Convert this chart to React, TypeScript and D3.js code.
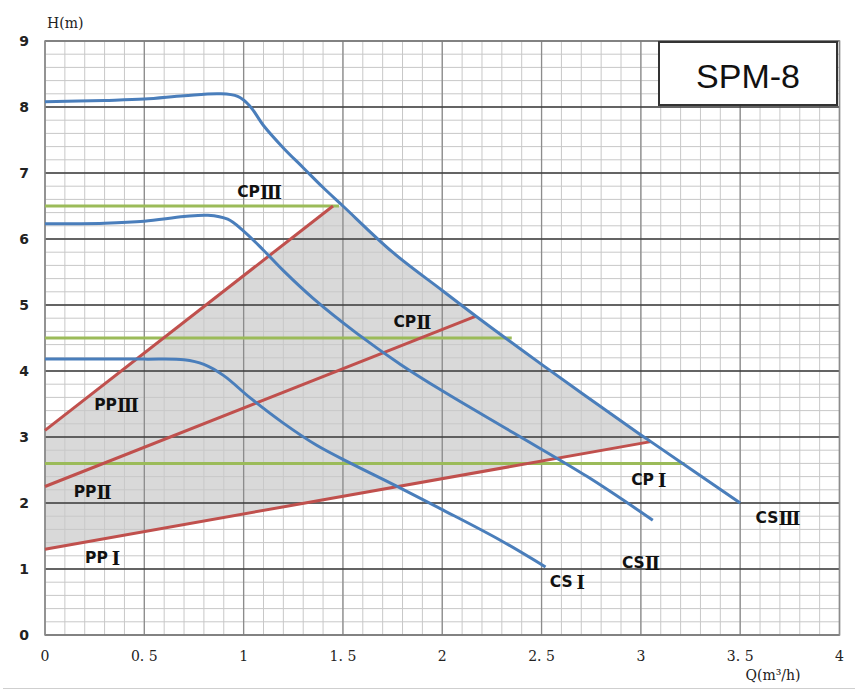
import React from 'react';
import * as d3 from 'd3';

// pump curves, Q (m3/h) vs H (m)
const csIII: [number, number][] = [
  [0, 8.08], [0.3, 8.1], [0.5, 8.12], [0.7, 8.17], [0.88, 8.2], [0.97, 8.16],
  [1.03, 8.02], [1.1, 7.72], [1.2, 7.38], [1.3, 7.08], [1.4, 6.78], [1.5, 6.5],
  [1.75, 5.8], [2.0, 5.22], [2.17, 4.83], [2.5, 4.1], [3.0, 3.03], [3.05, 2.93], [3.5, 2.0],
];
const csII: [number, number][] = [
  [0, 6.23], [0.3, 6.24], [0.5, 6.27], [0.7, 6.34], [0.82, 6.36], [0.92, 6.3],
  [1.0, 6.12], [1.1, 5.83], [1.2, 5.52], [1.35, 5.1], [1.57, 4.57], [1.79, 4.1],
  [2.0, 3.7], [2.36, 3.06], [2.73, 2.4], [3.06, 1.74],
];
const csI: [number, number][] = [
  [0, 4.18], [0.5, 4.18], [0.7, 4.17], [0.8, 4.1], [0.9, 3.93], [1.03, 3.6],
  [1.2, 3.21], [1.37, 2.87], [1.54, 2.6], [1.76, 2.27], [2.0, 1.9], [2.29, 1.44], [2.52, 1.03],
];

// proportional pressure lines (red)
const ppIII: [number, number][] = [[0, 3.1], [1.45, 6.5]];
const ppII: [number, number][] = [[0, 2.25], [2.17, 4.83]];
const ppI: [number, number][] = [[0, 1.3], [3.05, 2.93]];

// constant pressure lines (green)
const cpIII: [number, number][] = [[0, 6.5], [1.48, 6.5]];
const cpII: [number, number][] = [[0, 4.5], [2.35, 4.5]];
const cpI: [number, number][] = [[0, 2.6], [3.22, 2.6]];

const xTicks = [0, 0.5, 1, 1.5, 2, 2.5, 3, 3.5, 4];
const xTickLabels = ['0', '0. 5', '1', '1. 5', '2', '2. 5', '3', '3. 5', '4'];
const yTicks = [0, 1, 2, 3, 4, 5, 6, 7, 8, 9];

const curveLabels = [
  { name: 'CP', num: 'Ⅲ', gap: 0, q: 1.08, h: 6.71 },
  { name: 'CP', num: 'Ⅱ', gap: 0, q: 1.85, h: 4.74 },
  { name: 'CP', num: 'Ⅰ', gap: 4, q: 3.04, h: 2.35 },
  { name: 'PP', num: 'Ⅲ', gap: 0, q: 0.36, h: 3.48 },
  { name: 'PP', num: 'Ⅱ', gap: 0, q: 0.24, h: 2.17 },
  { name: 'PP', num: 'Ⅰ', gap: 4, q: 0.29, h: 1.17 },
  { name: 'CS', num: 'Ⅰ', gap: 4, q: 2.63, h: 0.8 },
  { name: 'CS', num: 'Ⅱ', gap: 0, q: 3.0, h: 1.09 },
  { name: 'CS', num: 'Ⅲ', gap: 0, q: 3.69, h: 1.77 },
];

const BLUE = '#4a7ebb';
const RED = '#c0504d';
const GREEN = '#9bbb59';

export default function App() {
  const width = 855;
  const height = 691;

  const x = d3.scaleLinear().domain([0, 4]).range([45, 839.5]);
  const y = d3.scaleLinear().domain([0, 9]).range([635, 41]);

  const smooth = d3.line<[number, number]>()
    .x(d => x(d[0]))
    .y(d => y(d[1]))
    .curve(d3.curveCatmullRom.alpha(0.5));
  const straight = d3.line<[number, number]>()
    .x(d => x(d[0]))
    .y(d => y(d[1]));

  // operating region: between PPI, CSIII and PPIII
  const regionEdge = csIII.filter(d => d[0] > ppIII[1][0] && d[0] <= ppI[1][0]).slice().reverse();
  const region: [number, number][] = [ppI[0], ppI[1], ...regionEdge, ppIII[1], ppIII[0]];

  const minorX = d3.range(0, 41).map(i => i / 10);
  const minorY = d3.range(0, 46).map(i => i / 5);

  return (
    <svg width={width} height={height} style={{ position: 'absolute', left: 0, top: 0, background: '#fff' }}>
      <path d={straight(region) + 'Z'} fill="#d9d9d9" />

      {/* minor grid */}
      {minorX.map(v => (
        <line key={'mx' + v} x1={x(v)} x2={x(v)} y1={y(9)} y2={y(0)} stroke="#c8c8c8" strokeWidth={1} />
      ))}
      {minorY.map(v => (
        <line key={'my' + v} x1={x(0)} x2={x(4)} y1={y(v)} y2={y(v)} stroke="#c8c8c8" strokeWidth={1} />
      ))}
      {/* major grid */}
      {xTicks.map(v => (
        <line key={'Mx' + v} x1={x(v)} x2={x(v)} y1={y(9)} y2={y(0)} stroke="#8c8c8c" strokeWidth={1.3} />
      ))}
      {yTicks.map(v => (
        <line key={'My' + v} x1={x(0)} x2={x(4)} y1={y(v)} y2={y(v)} stroke="#3a3a3a" strokeWidth={1.4} />
      ))}
      <rect x={x(0)} y={y(9)} width={x(4) - x(0)} height={y(0) - y(9)} fill="none" stroke="#8c8c8c" strokeWidth={1.5} />

      {/* constant pressure */}
      {[cpIII, cpII, cpI].map((d, i) => (
        <path key={'cp' + i} d={straight(d) ?? ''} fill="none" stroke={GREEN} strokeWidth={3} />
      ))}
      {/* proportional pressure */}
      {[ppIII, ppII, ppI].map((d, i) => (
        <path key={'pp' + i} d={straight(d) ?? ''} fill="none" stroke={RED} strokeWidth={3} />
      ))}
      {/* pump curves */}
      {[csIII, csII, csI].map((d, i) => (
        <path key={'cs' + i} d={smooth(d) ?? ''} fill="none" stroke={BLUE} strokeWidth={3} />
      ))}

      {curveLabels.map((l, i) => (
        <text key={'lb' + i} x={x(l.q)} y={y(l.h)} textAnchor="middle" dominantBaseline="central"
          fontFamily="DejaVu Sans" fontWeight="bold" fontSize={15.5} fill="#111">
          {l.name}
          <tspan dx={l.gap} fontFamily="DejaVu Serif" fontWeight="bold" fontSize={18}>{l.num}</tspan>
        </text>
      ))}

      {/* y axis */}
      {yTicks.map(v => (
        <text key={'yt' + v} x={24} y={y(v)} textAnchor="middle" dominantBaseline="central"
          fontFamily="DejaVu Sans" fontWeight="bold" fontSize={14} fill="#222">{v}</text>
      ))}
      <text x={47} y={28} fontFamily="DejaVu Serif" fontSize={14} fill="#222">H(m)</text>

      {/* x axis */}
      {xTicks.map((v, i) => (
        <text key={'xt' + v} x={x(v)} y={661} textAnchor="middle"
          fontFamily="DejaVu Serif" fontSize={14} fill="#222">{xTickLabels[i]}</text>
      ))}
      <text x={773} y={680} textAnchor="middle" fontFamily="DejaVu Serif" fontSize={14} fill="#222">Q(m³/h)</text>

      <line x1={3} x2={855} y1={688.5} y2={688.5} stroke="#cfcfcf" strokeWidth={1} />

      {/* model box */}
      <rect x={659} y={42} width={178} height={63} fill="#fff" stroke="#333" strokeWidth={2} />
      <text x={748} y={88} textAnchor="middle" fontFamily="Liberation Sans" fontSize={34} fill="#111">SPM-8</text>
    </svg>
  );
}
